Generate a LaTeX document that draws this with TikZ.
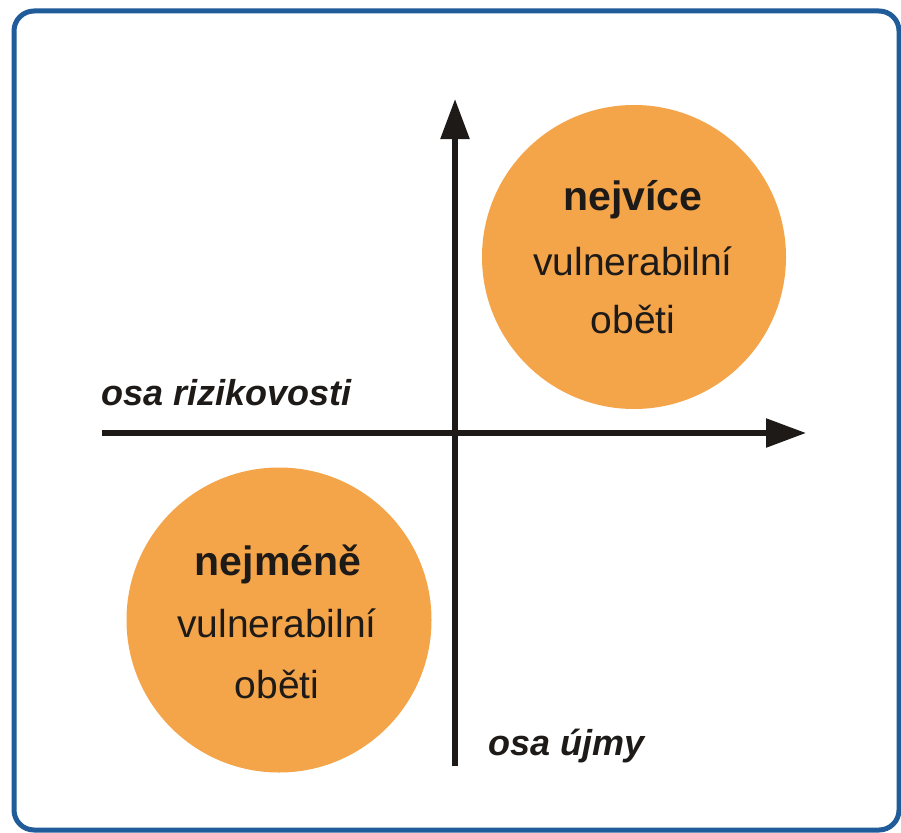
\documentclass[tikz,border=0pt]{standalone}
\usepackage{fontspec}
\setmainfont{Liberation Sans}
\usetikzlibrary{arrows.meta}
\definecolor{frameblue}{HTML}{1F5C99}
\definecolor{blob}{HTML}{F4A54A}
\definecolor{ink}{HTML}{1E1A18}
\tikzset{
  blobstyle/.style={circle, fill=blob, draw=none, inner sep=0pt},
  boldword/.style={anchor=base, text=ink, font=\fontsize{41}{41}\selectfont\bfseries, inner sep=0pt},
  plainword/.style={anchor=base, text=ink, font=\fontsize{39}{39}\selectfont, inner sep=0pt},
  axislabel/.style={anchor=base west, text=ink, font=\fontsize{36}{36}\selectfont\bfseries\itshape, inner sep=0pt},
  axisline/.style={line width=5.5pt, draw=ink, -{Triangle[length=40pt,width=28pt]}}
}
\begin{document}
\begin{tikzpicture}[x=1pt,y=-1pt]
\useasboundingbox (0,0) rectangle (901,832);
\fill[white] (0,0) rectangle (901,832);
\draw[frameblue, line width=5pt, rounded corners=20pt] (14,11) rectangle (899,830);

\node[blobstyle, minimum size=304pt] (most) at (634,257) {};
\node[blobstyle, minimum size=305pt] (least) at (279,620) {};

\coordinate (hstart) at (102,433);
\coordinate (hend) at (806,433);
\coordinate (vstart) at (455,766);
\coordinate (vend) at (455,99);
\draw[axisline] (hstart) -- (hend);
\draw[axisline] (vstart) -- (vend);

\node[boldword] (m1) at (633,210) {nejvíce};
\node[plainword] (m2) at (633,275) {vulnerabilní};
\node[plainword] (m3) at (633,333) {oběti};

\node[boldword] (l1) at (278,575) {nejméně};
\node[plainword] (l2) at (277,637) {vulnerabilní};
\node[plainword] (l3) at (277,698) {oběti};

\node[axislabel] (risk) at (101,405) {osa rizikovosti};
\node[axislabel] (harm) at (488,755) {osa újmy};
\end{tikzpicture}
\end{document}
